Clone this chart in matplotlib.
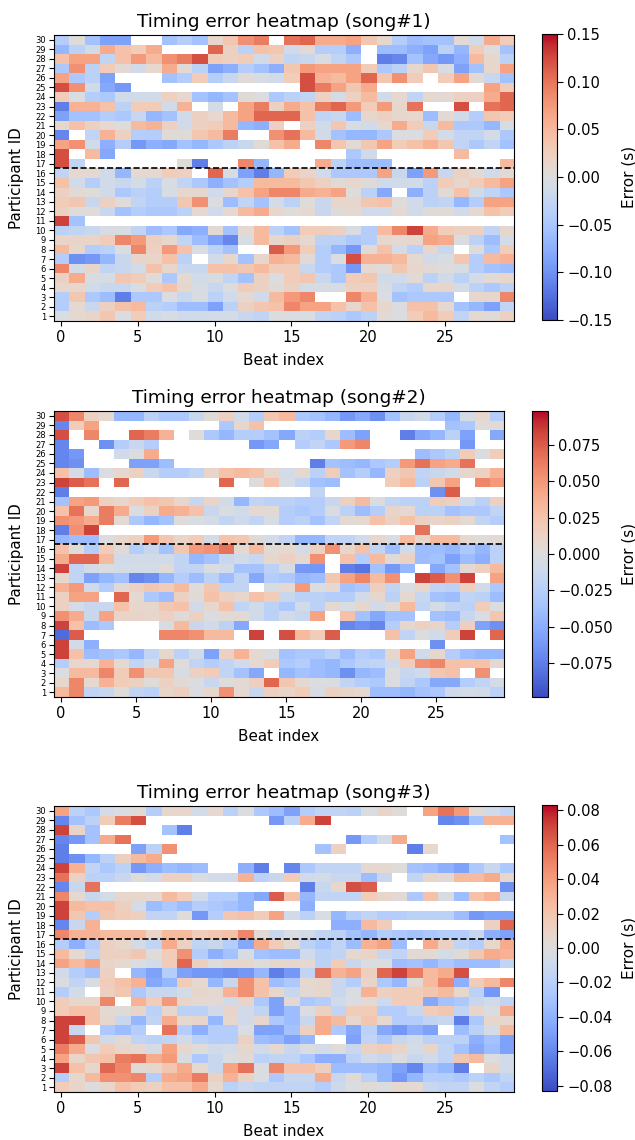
import numpy as np
import matplotlib
matplotlib.use('Agg')
import matplotlib.pyplot as plt

n = float('nan')  # participant skipped that beat

# colour levels, first row is participant 30
song1_rows = [
    [-3,0,-4,-6.5,-6.5,n,n,-4,-3,-4,1,2.5,6,7,n,7.5,8,4.5,4.5,5,2.5,1,-3,-4.5,-4,-4,0.5,-1,4.5,2],
    [-5,-2.5,-1,4.5,3,2,4.5,n,n,n,8,1.5,-2.5,3,2.5,-1,0.5,-3,-3,-5.5,n,-4.5,-4.5,-5.5,-6.5,-2.5,-5,2,0,-4],
    [3,5,5,-2,3,5.5,3.5,6,7,9,2,1.5,2,-1,1.5,-2,-1.5,-.5,-2,-3.5,n,-8.5,-8,-4,-6,-7,-5.5,3.5,1,-2.5],
    [-3.5,6,-2.5,2,.5,-1,.8,4.5,.3,-2.5,-6.5,-5.5,-3,-4,-5.5,2.5,5.5,5,5,5,2,-3.5,-2.5,1,2.5,-.5,-6.5,-4,1,5],
    [5,-3.5,-2.5,-6.5,n,n,n,-4,-3,2,-3,-1.5,.3,-.5,-1,2,9,4,3.5,5,8,2.5,6,2,n,2,5,.5,-1.5,-4],
    [9,6,-1,-6,-7]+[n]*11+[9,7,5,2.5,4.5]+[n]*7+[5,2],
    [2,-.3,-3,-3.5,-1,-1,-1,1.5,.8,-4,-5,-4,.3,-.2,-3.5,-2.5,-2,1.5,-.7,1.5,3.5,-1,.7,-2,.7,.5,1.5,1.5,4.5,8],
    [-8.5,4,4,3,-2.5,2,2,-1,4,n,-.7,n,5,7,1.5,4.5,3,7,8,5.5,2,5.5,1,7.5,n,n,9,n,7.5,8],
    [-6.5,-4,-4,-3,-3.5,-1.5,-5,-4,-1,1.5,.8,3.5,5,8,8,8,3,-2,-1.5,-4.5,1,1.5,1,.8,-4.5,.5,-1,-3,2.5,2],
    [1,3,1.5,.7,0,3.5,4,1.5,-1,1.5,2,3.5,-5,-5.5,1.5,n,1.5,-1,2.5,-.5,-1,1,4.5,2,-1.5,3.5,-3.5,-3.5,-5,-.5],
    [-8,n,-2,4,1.5,-3,-3,.3,.3,2.5,3.5,7,n,n,6,7.5,3.5,-1,-4,-5,-5,-3.5,-.3,-.3,2,-.7,-2,-2,-.7,-3.5],
    [5,6,-1,-5.5,-3,-7,-5.5,-6,-4,-5,-3.5,-2.5,-1.5,.3,3,4.5,n,6.5,2.5,.5,2.5,5,2,3,4,2.5,-2,-3.5,-2,-4],
    [9,n,3.5,-6]+[n]*15+[-3.5,-1]+[n]*5+[3.5]+[n]*3,
    [9,-2]+[n]*6+[0,-8.5]+[n]*2+[6.5,-5]+[n]*3+[4.5,-2.5,-4.5,-4.5,-4.5]+[n]*7+[3.5],
    [-2,.7,.7,-1,-5,.7,.7,2,1.5,n,8,-.5,-6.5,-8.5,-5,2,1.2,-1,-3.5,-3.5,-3.5,5,-1.5,-6.5,5.5,-1.5,1.5,.5,-1,.5],
    [3,-1,-3,-1,-1.5,-.7,-2.5,-.5,-2,-3.5,-5.5,-4,-3,3.5,3.5,3.5,2.5,1.5,.3,1,.3,-1,-1,-1,-2.5,2,1,2,3.5,5],
    [1.5,.5,.2,-1,-3.5,-2.5,-3,-.5,1,1,-1,1,3,5,6.5,6.5,4.5,4,5,0,-2.5,-6,n,-5.5,-2.5,.5,3,-1,-2,-3.5],
    [2,2.5,-1.5,1.5,.2,-2,-3,-3,2.5,6,-.2,-4.5,-2,-4,-.7,-2.5,.2,-1.5,1,1,2.5,3,.2,-1,-2.5,-2,-5,-3,5,5],
    [1.5,.2,.2,-1.5,-4,-3,-3.5,-3.5,-2.5,.7,-1,.7,3.5,4.5,1,.2,.7,-1.5,.3,.7,-1,-1,.7,-1,.3,.3,-1,.7,3,2],
    [9.5,-4]+[n]*28,
    [-2.5,-2,-1.5,-.5,-.5,-2,-4.5,-3.5,-6,-5.5,.5,-4,.7,3.5,-2.5,-4,2,2,1.5,-.5,-3,3.5,6.5,9.5,4.5,2,1.5,1.5,-2,1],
    [1.2,1.2,1.2,2,6.5,5.5,1.7,1,-2,-4.5,-6.5,-8,-.5,3.5,1,1.7,.8,-2.5,-2.5,-3.5,-3,1,.7,1,5,4.5,-.2,-2.5,-4.5,-.7],
    [3.5,1,-3,-2.5,-.2,6.5,1.5,5.5,3,-.3,-2.5,-4,n,n,8.5,5.5,2,-3,-5,-7,.5,3,-.7,-2.5,1,-1.5,n,.2,-3.5,2],
    [-3,-7.5,-7,-5,-1.5,1.2,1.2,3,-2.5,n,-1,1,-4,1,4,3.5,.5,-3,-.2,9,4,4,3.5,.7,-1,-.5,2.5,-3,3.5,4],
    [6.5,-.7,1.2,-2,-1.5,-.7,3,1,-1.5,-1.5,3,3,2.5,3.5,2,2,-1.5,-3,-3.5,-7,.7,.2,2.5,1,.5,0,-.5,-3,-4,-4.5],
    [1.5,4.5,-.5,-.5,2.5,2,.2,-3.5,.7,-1,-.5,-2,-4,1.5,-.2,2,2.5,-1.5,-3.5,2,2.5,-1,-1,.5,-2.5,-1,-2.5,-.7,.5,1],
    [1,1,-1,-1.5,-1.5,-.3,2,3,1,-.5,-1.5,-.2,2,1.5,.3,1.5,-.7,-.5,-.5,1.5,1.5,-.5,-2,-3,1,1.2,-.7,-2.5,-3.5,-2.5],
    [-3,2.5,-3.5,-4.5,-8.5,-3.5,-3.5,-.2,-1.5,-.5,-2.5,-1,.7,-1,3.5,5.5,6.5,n,n,6.5,4,-.3,-4,-3.5,-3.5,-3.5,n,1,1,6.5],
    [-3,.7,-1.5,1.5,3,3.5,-2.5,-3,-4.5,-4.5,-6.5,-2.5,1.5,2.5,3,6.5,5,5,3,1,3,1,-.2,3,3,.7,-4,-5,-6.5,-2],
    [-.3,.7,1.2,2.5,-.3,2,-1,-.5,-1,-1,-.7,-.7,-1.5,-2,-.2,-.3,-.3,-2,-2.5,-3.5,-2.5,.5,-.2,2,3.5,2,-2,.7,.3,1.5],
]

song2_rows = [
    [9,6.5,1.5,.8,-5,-5,-2.5,-3.5,-3.5,-1.5,.3,1.5,-1,-3,2.5,3.5,-3.5,-4,-5,-7,-6,-7.5,-4,-1.5,-1,-3,-5,-.7,1,-3],
    [-8,2,5]+[n]*8+[-3.5,1,3]+[n]*12+[-4,-3.5,.2,.3],
    [9,n,6.5,n,n,8,7,4,n,.2,-3.5,-5,-3,-3,-4,-6,-2.5,-3,1,-4.5,-6.5,n,n,-8.5,-6,-5,-2.5,-6.5,n,-6],
    [-8,n,n,-7.5,-3,-1.5,-3]+[n]*6+[-7,-6,n,-3,-2,-3.5,5.5,6.5]+[n]*6+[-7,n,n],
    [-8,-7,n,n,-1,-.2,4.5]+[n]*17+[-4.5,-3.5,-2.5,2,-.2,2],
    [-8,-7.5,n,n,n,-6.5,-6.5,-4.5]+[n]*9+[-8.5,-4,-4.5,-5,-3.5,-3,5.5,7.5,5,4.5,7.5,n,n],
    [3,-.7,-4.5,-.2,.7,1.5,-1.5,-3,-3,-2,1.2,3,3.5,3,1,-.7,.7,-2.5,2,-4,-3,-5,1.5,2.5,-2,-1.5,-1,1,1.5,4],
    [9.5,8.5,7.5,n,8]+[n]*6+[8,n,.1,3,-.5,-2,-4,-4.5]+[n]*3+[2,3.5,-2.5,2.5,5,n,6.5,5.5],
    [-8.5]+[n]*16+[-2]+[n]*7+[-7.5,8.5,n,n,n],
    [-4,5,5.5,1.5,1,2,3,2.5,1,-1.5,1.2,-1,-5,-2,-2.5,-2.5,-3,-3,-1.5,1.5,3.5,-.3,-2,-2.5,-2.5,2,1.5,-1,-2.5,1.5],
    [3,7.5,1,7,4.5,-.2,1.5,4.5,4,3,-1.5,-.3,-1,.7,.5,-3,-3.5,-3,-.5,-2.5,-4.5,-3,1.2,.7,-2.5,-2.5,-4,-3.5,-3.5,-2],
    [6,5.5,4.5,7,.5,-3.5,-5,-4,.2,-.3,-.7,-2,-1.2,-2,-.5,-3,-2.5,-4,-2,.5,.7,3,1.5,3,1.5,1.2,1.5,.7,-2,-3],
    [-8.5,6,9.5]+[n]*21+[7.5]+[n]*5,
    [-5,-4.5,-4.5,-.2,1,1.5,5.5,2.5,1.2,2,-.7,3,2.5,.3,-.7,-2,-5,-5,-2,-2,-1,1,-.3,3.5,1,3.5,3.5,.7,.2,.5],
    [3,0,-3,2,.5,-3,-1.5,-4,2.5,5.5,6,7.5,.7,3.5,.3,.7,-.7,1.5,6,1,3,-2,-4.5,-1,-4.5,-4.5,-5,-3.5,-5,-2.5],
    [4.5,8,8,3.5,-1,-1,-1,-1,-2,-5,-4,-1.5,-1,-1.5,1,1.5,.7,6,n,3,-3,3.5,.3,1.5,-4.5,-4,-6.5,-4.5,-5.5,-2.5],
    [9.5,-2,-.7,-.3,-.7,-.7,-.7,.2,-2,-2,-.3,-.7,-4,-4,-2.5,-.7,-7,-7,n,-8.5,-9,-4,-7,-5,n,-6,-4,.7,1.5,3.5],
    [1,-2,-6.5,-5,-4,-8,-7.5,-5,-3,-4.5,-2.5,-4.5,-2,-6,-3,-3.5,-5,-4.5,2.5,5,6.5,3.5,6,n,9.5,8.5,6,9.5,n,5],
    [4,5.5,-1,-3,.5,1.5,2.5,2,3.5,.2,2.5,-2,-2,n,-.5,.7,5.5,-.2,.7,-4,-3.5,1.7,-2,-.3,1,-2,-2.5,1.7,-1,-3.5],
    [1.5,5,5,n,8,.7,-3.5,-4.5,1.5,.3,3,1.5,1,3,2,-1.5,-2.5,-2.5,-3,-3,-1,1,-2.5,.7,-1.5,-4,-4.5,-2,-2.5,-4.5],
    [1.5,-.7,-1.5,-1.5,3,1,1,2.5,3,-1,1,3,-2,-1,-2.5,-3.5,-1,-2.5,.7,-.3,1,-1,.5,3.5,-2,-.7,-2,-2.5,2,-.2],
    [6,4.5,-1.5,5,1.2,1.2,1,1.5,.3,1.5,-.2,.5,.5,-1,-2.5,-1,-1.5,5,n,3,-4,-6,-4,-4,n,-4,-4.5,-1.5,-.3,2.5],
    [9.5,3,-4.5,-3.5,n,n,n,-.5,3.5,-1.5,-1,-2.5,-6]+[n]*6+[-8,-7.5,-8,-3,1,1.5,1.2,-3,1.7,-6.5,-7.5],
    [-9.5,8.5]+[n]*5+[6.5,6.5,6,3.5,3.5,n,9.5,n,9,3.5,2,8.5]+[n]*3+[3,-2,-.2,-1,2,9.5,n,8],
    [9.5,-.8,-5.5]+[n]*22+[-7.5]+[n]*4,
    [9.5,3,-4.5,-4,-3.5,-5,-2,1,-2.5,-1,-6.5,1.5,4,.7,-.3,-4,-3.5,-3.5,-2.5,-4.5,-3,-3.5,1,5,-1,1,-3,-4.5,-5,-5],
    [-3,1,.7,4,.7,-2,-.7,5,.2,-2,-3,-2,-1,.7,2,-3.5,-3,-4.5,-5,-3.5,-2.5,-2,-1,2,6,6.5,3,3,3,.7],
    [-.3,3.5,3.5,6.5,2,6,2.5,2.5,-.5,1.5,2,-2,-4,-6,n,-5,-4,-4.5,-5,-7.5,-5,-4.5,-.2,-1.5,-1,2.5,3,n,6,n],
    [1,6.5,.7,4,2,1.5,.2,1.5,.5,-.3,-1.5,.2,.5,1.7,8,2.5,.7,-.2,-.2,-2,-3,-3.5,-.2,-2,-3.5,-6,-6,-3,-2,-.7],
    [3.5,6.5,-2,-1.5,.2,-2,-2.5,1.2,1.7,-.2,1,6,.7,-1.5,1.5,1.2,2,-.5,1.5,1.2,.7,-4.5,-4.5,-5,-4,-3.5,-1.2,-.7,-1,-2.5],
]

song3_rows = [
    [5,-2.5,-3.5,-.7,-.3,.3,-3,1,1,-.7,.7,-2.5,-.2,-3.5,-4.5,-6.5,-3,-2,-2,-2.5,-.2,1.2,.2,n,5,7.5,5.5,.5,-1,-2],
    [-8,-4,-2.5,2,7,9]+[n]*8+[-7,-2.5,4.5,9.5]+[n]*7+[-8,-7.5,-4,4,4],
    [9.5,1.2,-4]+[n]*4+[-4,-8.5]+[n]*21,
    [-8,-7,-4,4.5,7.5]+[n]*14+[-7,-3,-.7,4.5]+[n]*6+[-4],
    [-8.5,n,n,n,n,-6.5,-2.5,6]+[n]*9+[-4,1.5]+[n]*4+[-8.5,.8]+[n]*5,
    [-8.5,-7.5,-5,-2.5,1.7,3.5,4.5]+[n]*23,
    [9.5,4,-2,-3.5,-2.5,-7,-5.5,-4.5,-5,-4.5,n,n,-5.5,-8.5,n,-8,-3.5,-2,-2,-2,.7,.7,0,-4,-4.5,-5.5,-6.5,-3.5,-1.5,-3.5],
    [7.5,1.5,-2.5,-2.5,-1.5,.1,-.7,1.5,1.5,-.2,-.7,-1,4,-2.5,-1.5,2,-1,-.7,-1.5,-1.5,-4.5,-1.5,n,-2,1,.5,3.5,3.5,4.5,1],
    [-8,-1.5,7.5]+[n]*13+[-8.5,-1.5,1,9,8.5]+[n]*8+[-7.5],
    [6.5,.7,-1.5,-.7,1,1,.7,3.5,2,-.7,-3,-3,-5,-6,8.5,3,-5,-2,-2,-2,2,1,.5,-3.5,3,-.5,-4.5,3,4,-1.5],
    [9.5,3.5,3,3,1.7,-.7,-4.5,-3.5,-4.5,-3,-3.5,-4,-5]+[n]*3+[-5.5]+[n]*13,
    [9.5,2.5,-3,2.5,2,1.5,-2,-2,.2,-7,-3,2.5,3,2,5,-1,-2.5,-.3,-5,-3,-2,-3,-3,-2.5,-2.5,-2.5,-4.5,-7,-6.5,-6.5],
    [-8,-1.5,4]+[n]*15+[-5.5,-5.5,3.5,2]+[n]*6+[1.5,8],
    [6.5,4,4,3.5,3.5,3.5,1.2,3.5,3.5,2,2.5,3,6.5,.5,-1.5,-.3,-.8,-2,-2.5,-4,-5,-3,-3.5,-4,-3.5,-3,-3,-1.5,-5.5,-6.5],
    [-3,-5.5,-3,1.5,1,-.7,-2,4.5,1.5,-2,-1.5,-3,-6,4.5,2,.5,-2.5,-3.5,-2,-4.5,4,5,-4.5,n,4.5,1.5,-2,-3,1,4.5],
    [3.5,.7,-2,1.5,1.5,2.5,.2,2,6,-3,-5.5,-4,-.5,-4,-4.5,-4.5,-1,-2.5,-2,.8,1.2,-1.5,-2,.5,.5,-.7,.3,2.5,4.5,4],
    [5,3.5,5,1.2,.7,-.2,-.7,2,8,1.7,.2,1,1,.2,1,1,.7,-2.5,2,-1.5,-.3,-.3,-4.5,-4,-5,-3.5,-4.5,-4.5,-4.5,-2],
    [-1,-3,-4,1.5,n,-5,-6.5,-3,-6.5,-7,-7,-7.5,-7,-5,-8.5,-7,-2,7.5,4,5,1.7,8,9.5,7,3.5,4.5,9,n,n,n],
    [-.3,-2,-.5,2,3,4,-6,-5,2,.8,-5,-1.5,6,3,-4.5,-3.5,.7,1,-1.5,-3,1.2,-3.5,-5,.5,3.5,6.5,-5.5,2,3.5,6.5],
    [-3,-.7,n,1.7,2.5,-3.5,-1.5,-1.5,-.7,1,.7,4,6,3,1,-1.5,.5,1,-1.5,-.3,4,1.5,2,2,2.5,3.5,1,-2.5,-7,n],
    [2,1,1,6.5,n,4,2,5.5,1.2,.7,.5,-1,1.2,-3.5,-6.5,.7,-3.5,-3,-1,-.3,.5,-1.2,2,2,-6,-4,-3.5,-1.5,-1,-2],
    [2,3,3,.5,.3,1.2,-2.5,1,-2.5,-2.5,-.8,1.2,-1,-2,-6.5,-4.5,-.2,1.5,-2,2,2,-3,-3,-1.5,2,2.5,-2,1.2,-.3,4.5],
    [9.5,9.5,3,1,-1.5,-5,-2,4.5,.8,1.2,-5,1,-1,1,-3.5,-4.5,-1.5,4.5,3.5,1,2.5,.7,-3,-3,-2,-1.5,-8.5,-3.5,1,1],
    [9.5,-1.5,n,-3.5,-4.5,-3,n,7.5,-3,-5.5,-3,-3,-.3,-6.5,-6.5,-4,1.5,4.5,-3.5,-6,-2.5,-6,-7,-5.5,-6.5,n,-4.5,-2.5,-.7,3.5],
    [9.5,8.5,2.5,-1,.5,-2,-2.5,-2,-1,-2.5,-3,-3,1.5,-4.5,-5,-6.5,-5,n,n,-6.5,-2,-3.5,-1.5,-1,-2.5,-2.5,-2.5,-5.5,-4,-6.5],
    [7,4.5,-.2,2,1,.7,-.7,5,1,.2,-1,-.7,1,-1,.8,-1.5,-.2,-.7,.2,-1.5,1.5,2,1.2,-.7,1.2,-2,-4,-6,-4.5,-6.5],
    [5,1.2,2.5,3,7,7.5,4.5,5.5,-.5,-3.5,-1.5,-.2,.5,-2.5,-2,-2,-3.5,-5.5,-5.5,-2.5,-1,-1.5,-.2,-1.5,-1,-2,2.5,3.5,-.2,-1],
    [9.5,3,1,8,6.5,.3,1,2.5,4.5,.8,-1.5,5,7.5,-.2,6.5,3,3,1.7,-4.5,-4.5,-4.5,-5,-6.5,-8,-4,-5,-8.5,n,1.2,-1],
    [-3,1,3.5,6,6,6.5,-3,4.5,5,7,1.5,4,1.5,-.3,-3.5,-1.5,-1.5,4.5,-1.5,.3,-2.5,-5,-7,-5,-3,-3,-3.5,-2.5,-3.5,-2],
    [2,1.2,-.1,1,3,2,1.5,3,3,4.5,.8,-2.5,-1.5,-2,-2,-2,-2,-3,-1.2,-.3,.3,-.2,.7,.7,-1.5,-2,-2,-.2,-2,-3],
]

song_rows = [song1_rows, song2_rows, song3_rows]
song_vmax = [0.15, 0.098, 0.083]
level_to_frac = 0.09  # level 10 is a bit under vmax
cbar_ticks = [
    [-0.15, -0.10, -0.05, 0.00, 0.05, 0.10, 0.15],
    [-0.075, -0.050, -0.025, 0.000, 0.025, 0.050, 0.075],
    [-0.08, -0.06, -0.04, -0.02, 0.00, 0.02, 0.04, 0.06, 0.08],
]
beat_ticks = [0, 5, 10, 15, 20, 25]
participant_ids = list(range(1, 31))

W, H = 635.0, 1140.0
# pixel boxes (left, right, top, bottom) of the heatmaps and the colourbars
ax_boxes = [(53.5, 514, 35, 321), (53.5, 504, 411, 697), (53.5, 514, 806, 1092)]
cb_boxes = [(542, 557, 34, 320), (532, 548, 411, 697), (542, 557, 805, 1091)]


def to_axes(fig, box):
    l, r, t, b = box
    return fig.add_axes([l / W, 1 - b / H, (r - l) / W, (b - t) / H])


fig = plt.figure(figsize=(W / 100, H / 100), dpi=100)

for i in range(3):
    vmax = song_vmax[i]
    errors = np.array(song_rows[i], dtype=float) * vmax * level_to_frac
    ax = to_axes(fig, ax_boxes[i])
    im = ax.imshow(errors, cmap='coolwarm', vmin=-vmax, vmax=vmax, aspect='auto',
                   interpolation='nearest', extent=(-0.5, 29.5, 0.5, 30.5))
    ax.axhline(16.5, color='k', linestyle='--', linewidth=1.2)
    ax.set_title('Timing error heatmap (song#%d)' % (i + 1), fontsize=13.3, pad=6)
    ax.set_xlabel('Beat index', fontsize=10.9, labelpad=6)
    ax.set_ylabel('Participant ID', fontsize=10.9, labelpad=8)
    ax.set_xticks(beat_ticks)
    ax.set_yticks(participant_ids)
    ax.tick_params(axis='x', labelsize=10.5, length=3.5, pad=3)
    ax.tick_params(axis='y', labelsize=6, length=3.5, pad=2)

    cax = to_axes(fig, cb_boxes[i])
    cb = fig.colorbar(im, cax=cax)
    cb.set_ticks(cbar_ticks[i])
    cb.ax.tick_params(labelsize=10.6, length=4, pad=3.5)
    cb.set_label('Error (s)', fontsize=11, labelpad=6)

fig.savefig('out.png', dpi=100)
